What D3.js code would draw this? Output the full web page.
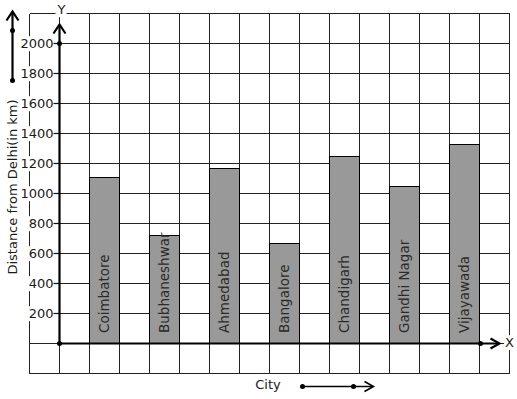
<!DOCTYPE html>
<html>
<head>
<meta charset="utf-8">
<script src="https://cdn.jsdelivr.net/npm/d3@7"></script>
<style>
  html, body { margin: 0; padding: 0; background: #fff; }
  svg { display: block; font-family: "DejaVu Sans", sans-serif; }
</style>
</head>
<body>
<svg id="chart" width="517" height="399"></svg>
<script>
const cities = ["Coimbatore", "Bubhaneshwar", "Ahmedabad", "Bangalore", "Chandigarh", "Gandhi Nagar", "Vijayawada"];
const distances = [1110, 720, 1170, 665, 1250, 1050, 1325];
const yTicks = [200, 400, 600, 800, 1000, 1200, 1400, 1600, 1800, 2000];
const gridYValues = [-200, 0, 200, 400, 600, 800, 1000, 1200, 1400, 1600, 1800, 2000, 2200];
const yTitle = "Distance from Delhi(in km)";
const xTitle = "City";

const svg = d3.select("#chart");
const g = svg.append("g").attr("transform", "translate(0.5,0.5)");
const tg = svg.append("g");

const x = d3.scaleBand().domain(cities).range([59, 509]).paddingInner(0.5).paddingOuter(0.5);
const y = d3.scaleLinear().domain([0, 2000]).range([343, 43]);
const gx = d3.scaleLinear().domain([0, 16]).range([29, 509]);

// grid
const grid = g.append("g").attr("stroke", "#222").attr("stroke-width", 1).attr("shape-rendering", "crispEdges");
grid.selectAll("line.h").data(gridYValues).join("line")
  .attr("x1", gx(0)).attr("x2", gx(16))
  .attr("y1", d => y(d)).attr("y2", d => y(d));
grid.selectAll("line.v").data(d3.range(0, 17)).join("line")
  .attr("y1", y(2200)).attr("y2", y(-200))
  .attr("x1", d => gx(d)).attr("x2", d => gx(d));

// bars
g.selectAll("rect.bar").data(cities).join("rect")
  .attr("class", "bar")
  .attr("x", d => x(d))
  .attr("width", x.bandwidth())
  .attr("y", (d, i) => y(distances[i]))
  .attr("height", (d, i) => y(0) - y(distances[i]))
  .attr("fill", "#999999")
  .attr("stroke", "#000")
  .attr("stroke-width", 1)
  .attr("shape-rendering", "crispEdges");

// bar labels
tg.selectAll("text.blabel").data(cities).join("text")
  .attr("transform", d => `translate(${x(d) + x.bandwidth() / 2 + 5},333) rotate(-90)`)
  .attr("font-size", "13.5px")
  .attr("fill", "#2a2a2a")
  .text(d => d);

// y tick labels with white background
const tk = g.append("g");
yTicks.forEach(v => {
  const t = tk.append("text")
    .attr("x", 53).attr("y", y(v)).attr("dy", "0.36em")
    .attr("text-anchor", "end").attr("font-size", "13px").attr("fill", "#1a1a1a")
    .text(v);
  const b = t.node().getBBox();
  tk.insert("rect", "text").attr("x", b.x - 1).attr("y", b.y).attr("width", b.width + 2).attr("height", b.height).attr("fill", "#fff");
  tk.append("line").attr("x1", 53).attr("x2", 59).attr("y1", y(v)).attr("y2", y(v)).attr("stroke", "#111").attr("stroke-width", 1.2);
});

// axes
const axisStroke = "#000";
g.append("line").attr("x1", 59).attr("x2", 59).attr("y1", y(0)).attr("y2", 25)
  .attr("stroke", axisStroke).attr("stroke-width", 2.2);
g.append("path").attr("d", "M53,33 L59,24 L65,33").attr("fill", "none").attr("stroke", axisStroke).attr("stroke-width", 2.2);
g.append("line").attr("x1", 59).attr("x2", 498).attr("y1", y(0)).attr("y2", y(0))
  .attr("stroke", axisStroke).attr("stroke-width", 2.2);
g.append("path").attr("d", `M490,${y(0) - 5} L499,${y(0)} L490,${y(0) + 5}`).attr("fill", "none").attr("stroke", axisStroke).attr("stroke-width", 2.2);
[[59, y(0)], [59, y(2000)], [480, y(0)]].forEach(p => {
  g.append("circle").attr("cx", p[0]).attr("cy", p[1]).attr("r", 2.5).attr("fill", "#000");
});

// axis letters
function labelWithBg(px, py, txt) {
  const t = g.append("text").attr("x", px).attr("y", py).attr("dy", "0.36em")
    .attr("text-anchor", "middle").attr("font-size", "13px").attr("fill", "#1a1a1a").text(txt);
  const b = t.node().getBBox();
  g.insert("rect", () => t.node()).attr("x", b.x - 1).attr("y", b.y).attr("width", b.width + 2).attr("height", b.height).attr("fill", "#fff");
}
labelWithBg(61, 9, "Y");
labelWithBg(509, 342, "X");

// y title
tg.append("text")
  .attr("transform", "translate(17,187) rotate(-90)")
  .attr("text-anchor", "middle").attr("font-size", "13px").attr("fill", "#1a1a1a")
  .text(yTitle);

// top-left decorative arrow
g.append("line").attr("x1", 12).attr("x2", 12).attr("y1", 80).attr("y2", 12).attr("stroke", "#000").attr("stroke-width", 2.2);
g.append("path").attr("d", "M6,20 L12,11 L18,20").attr("fill", "none").attr("stroke", "#000").attr("stroke-width", 2.2);
g.append("circle").attr("cx", 12).attr("cy", 30).attr("r", 2.5).attr("fill", "#000");
g.append("circle").attr("cx", 12).attr("cy", 80).attr("r", 2.5).attr("fill", "#000");

// x title
tg.append("text").attr("x", 268).attr("y", 389).attr("text-anchor", "middle")
  .attr("font-size", "13px").attr("fill", "#1a1a1a").text(xTitle);

// bottom decorative arrow
g.append("line").attr("x1", 302).attr("x2", 372).attr("y1", 386).attr("y2", 386).attr("stroke", "#000").attr("stroke-width", 1.6);
g.append("path").attr("d", "M364,381 L373,386 L364,391").attr("fill", "none").attr("stroke", "#000").attr("stroke-width", 1.6);
g.append("circle").attr("cx", 302).attr("cy", 386).attr("r", 2.5).attr("fill", "#000");
g.append("circle").attr("cx", 353).attr("cy", 386).attr("r", 2.5).attr("fill", "#000");
</script>
</body>
</html>
